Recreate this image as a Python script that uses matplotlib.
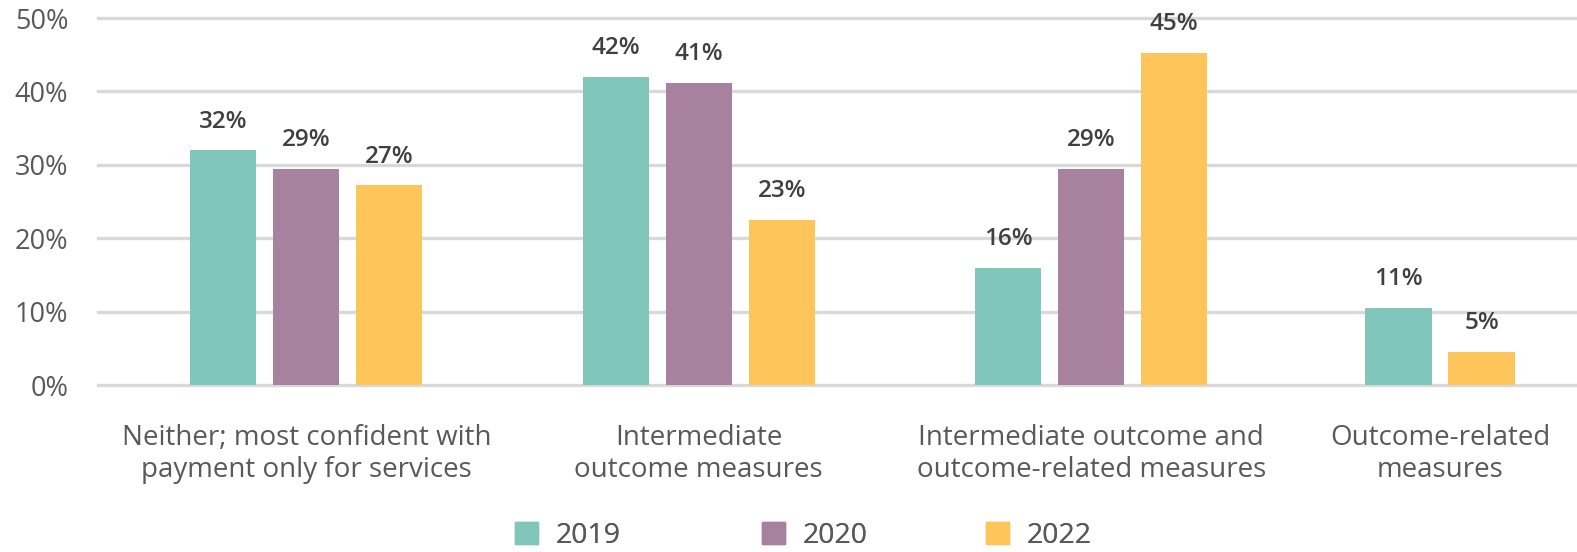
import matplotlib.pyplot as plt
from matplotlib.patches import Patch

plt.rcParams['font.family'] = ['Open Sans', 'DejaVu Sans']

categories = ['Neither; most confident with\npayment only for services',
              'Intermediate\noutcome measures',
              'Intermediate outcome and\noutcome-related measures',
              'Outcome-related\nmeasures']
years = ['2019', '2020', '2022']
v2019 = [32.0, 42.0, 16.0, 10.5]
v2020 = [29.5, 41.2, 29.5, None]
v2022 = [27.2, 22.5, 45.3, 4.5]
labels2019 = ['32%', '42%', '16%', '11%']
labels2020 = ['29%', '41%', '29%', None]
labels2022 = ['27%', '23%', '45%', '5%']
yticks = [0, 10, 20, 30, 40, 50]

colors = ['#80c6bb', '#a8819e', '#fec55a']
series = [v2019, v2020, v2022]
series_labels = [labels2019, labels2020, labels2022]

# group centres (last group sits a bit closer, as in the source)
centers = [0, 1, 2, 2.889]
step = 0.2114
width = 0.169

fig = plt.figure(figsize=(15.77, 5.52), dpi=100)
ax = fig.add_axes([97.5 / 1577, (552 - 385) / 552, (1577 - 97.5) / 1577, 366.9 / 552])

for yv in yticks:
    ax.axhline(yv, color='#d9d9d9', lw=2.4, zorder=0, clip_on=False)

for g, c in enumerate(centers):
    present = [s for s in range(3) if series[s][g] is not None]
    n = len(present)
    for k, s in enumerate(present):
        x = c + (k - (n - 1) / 2) * step
        val = series[s][g]
        ax.bar(x, val, width=width, color=colors[s], zorder=2)
        ax.annotate(series_labels[s][g], (x, val), xytext=(0, 12),
                    textcoords='offset points', ha='center', va='bottom',
                    fontsize=17.5, fontweight='semibold', color='#404040')

ax.set_xlim(-0.532, 3.238)
ax.set_ylim(0, 50)
ax.set_yticks(yticks)
ax.set_yticklabels([f'{t}%' for t in yticks], fontsize=19.5, color='#595959')
ax.set_xticks(centers)
ax.set_xticklabels(categories, fontsize=20, color='#595959', linespacing=1.2)
ax.tick_params(axis='both', length=0)
ax.tick_params(axis='x', pad=28)
ax.tick_params(axis='y', pad=21)
for sp in ax.spines.values():
    sp.set_visible(False)

# legend entries placed one by one (spacing in the source is uneven)
legend_x = [515, 762, 986]
for i in range(3):
    leg = fig.legend([Patch(color=colors[i])], [years[i]], loc='center left',
                     bbox_to_anchor=(legend_x[i] / 1577, 1 - 536 / 552),
                     frameon=False, fontsize=20.5, labelcolor='#595959',
                     borderpad=0, borderaxespad=0,
                     handlelength=0.82, handleheight=0.82, handletextpad=0.62)
    fig.add_artist(leg)

fig.savefig('out.png', dpi=100)
